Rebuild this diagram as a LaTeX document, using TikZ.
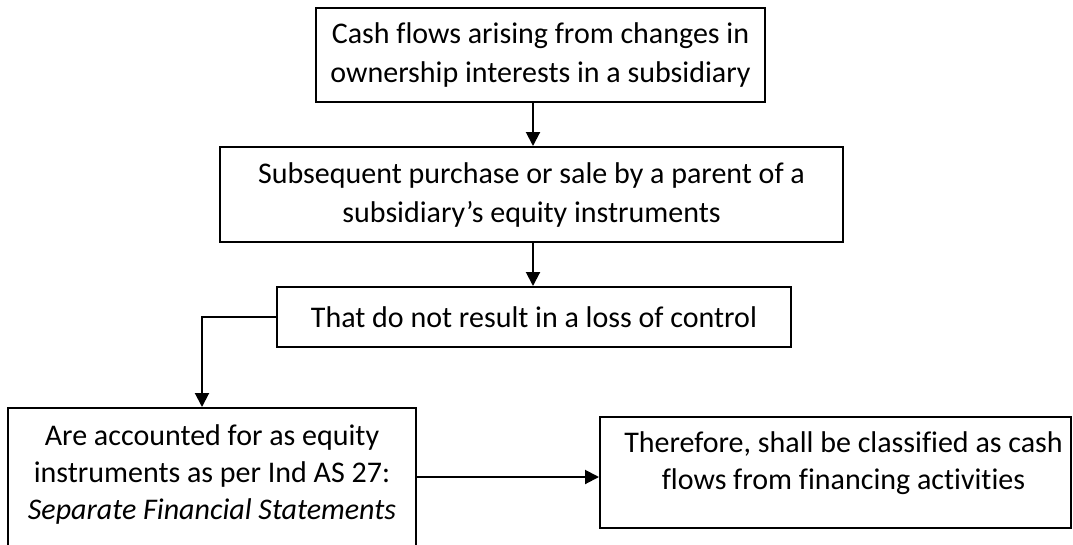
\documentclass[tikz,border=0pt]{standalone}
\usepackage{fontspec}
\setmainfont{Carlito}[Ligatures=NoCommon]
\usetikzlibrary{arrows.meta,calc}
\begin{document}
\begin{tikzpicture}[x=1pt,y=-1pt,
  flowbox/.style={draw,line width=2pt,inner sep=0pt,align=center,
    font=\fontsize{30}{39}\selectfont},
  flowtext/.style={inner sep=0pt,align=center,font=\fontsize{30}{37}\selectfont},
  flowarrow/.style={line width=2pt,-{Triangle[length=14pt,width=14pt]}}]
\useasboundingbox (0,0) rectangle (1073,544);
\clip (0,0) rectangle (1073,544);

\node[flowbox,minimum width=449,minimum height=94] (b1) at (540.5,55)
  {Cash flows arising from changes in\\ownership interests in a subsidiary};
\node[flowbox,minimum width=623,minimum height=95] (b2) at (531.5,194.5)
  {Subsequent purchase or sale by a parent of a\\subsidiary’s equity instruments};
\node[flowbox,minimum width=514,minimum height=60] (b3) at (534,317)
  {That do not result in a loss of control};
\node[flowbox,minimum width=408,minimum height=142] (b4) at (212,479) {};
\node[flowtext] (b4text) at ($(b4.center)+(0,-5)$)
  {Are accounted for as equity\\instruments as per Ind AS 27:\\\textit{Separate Financial Statements}};
\node[flowbox,minimum width=471,minimum height=111] (b5) at (835.5,472.5) {};
\node[flowtext] (b5text) at ($(b5.center)+(8,-9)$)
  {Therefore, shall be classified as cash\\flows from financing activities};

\coordinate (k) at (202,317);

\draw[flowarrow] (b1.south -| 533,0) -- (533,0 |- b2.north);
\draw[flowarrow] (b2.south -| 533,0) -- (533,0 |- b3.north);
\draw[flowarrow] (b3.west) -- (k) -- (k |- b4.north);
\draw[flowarrow] (b4.east |- 0,477) -- (b5.west |- 0,477);
\end{tikzpicture}
\end{document}
